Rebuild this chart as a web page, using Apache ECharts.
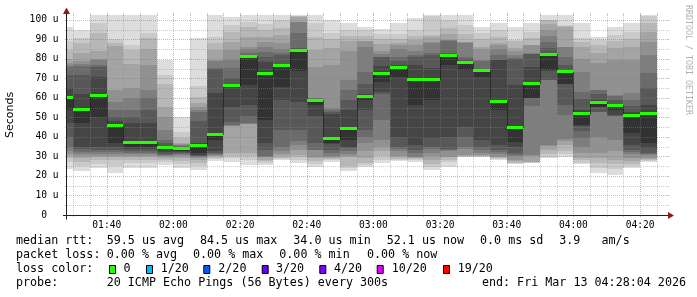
<!DOCTYPE html>
<html><head><meta charset="utf-8">
<script src="https://cdn.jsdelivr.net/npm/echarts@6/dist/echarts.min.js"></script>
<style>html,body{margin:0;padding:0;background:#fff}#c{width:697px;height:297px}</style>
</head><body><div id="c"></div>
<script>
// ---------- data ----------
const colEnds = ['01:30','01:35','01:40','01:45','01:50','01:55','02:00','02:05','02:10','02:15','02:20','02:25',
  '02:30','02:35','02:40','02:45','02:50','02:55','03:00','03:05','03:10','03:15','03:20','03:25',
  '03:30','03:35','03:40','03:45','03:50','03:55','04:00','04:05','04:10','04:15','04:20','04:25'];
// 20 sorted ping times (us) per 5-minute step
const pings = [
  [23.5,27,29,30.5,31.5,33,35,40,47,54,60,65,72,76,77,78,80,84.5,89,96.5],
  [22.5,25,27,29,30.5,31.5,32.5,34,35,47,54,62,72,76.5,77.5,79,83,88,91,95],
  [24,26,28,29.5,30.5,31.5,32.5,33.5,35,50,61.5,71,76,77,79.5,80,84,93.5,98.5,102.5],
  [21.5,25,28,29.5,30.5,31.5,32.5,33.5,35,36.8,45.8,48,50.5,54,58,64,86.5,88,90.5,102.5],
  [24.3,26.5,28,29.5,30.5,31.5,32,33,34,35,37.1,47,50,54,60,65,77.5,84.5,87,102.5],
  [24.3,26.5,28,29.5,30.5,31.5,32,33,34,35,37.4,47,54,60,64,77,85,91,93.5,102.5],
  [25.7,27,28,29,30,30.5,31,31.5,32.5,33.5,34.7,35.2,37,38.5,43.5,50,55.5,67.4,71.6,79.7],
  [24,26,27.5,29,30,31,31.5,32,32.5,33,34,34.5,35,35.5,36,36.5,37,39.5,42.7,50.4],
  [23,25,26.5,28,29,29.5,30,30.5,31,32,35.5,37,48,53,54,55.5,57.3,60.7,65.9,91],
  [27.7,28.5,29,30,30.5,31,31.5,32,33,38.3,41.4,62.4,75,75.2,79,79.5,84.6,88,91.5,102.5],
  [27.3,29,30.5,32,45.5,45.8,46,47.7,55.6,65,66.5,66.8,70,75.2,79.5,84.6,88.6,94,97.4,101.7],
  [25.7,28,30,31.6,46.6,46.8,47,50.6,56.6,66.8,81.5,81.8,82.3,83,85,86.3,91.5,96.4,99,102.5],
  [25.7,26.5,27.5,28.4,29.6,29.8,30,33.4,36.8,48.7,72.5,78.5,81,83.7,86,88.8,91.5,94.8,98,102.5],
  [28,28.5,29,30,31.5,33,35,43.8,59,65.8,76.5,77,82,83,85,88,92.3,95.7,100,102.5],
  [26.5,28,29.5,31,33.5,36,38,43.8,58,73.6,84.5,85,85.6,93.3,98.9,99.2,101.5,102,102.3,102.5],
  [24.4,26,27.5,29,29.5,33.2,33.4,37,50.6,56.4,58.8,59.3,59.6,59.8,60,76.1,84.6,91.5,98.3,102.5],
  [27.3,28,28.5,29,29.5,30,32,33.4,36.5,36.8,39,52,53,54,54.7,77,85.4,90,93.5,100],
  [22.7,24,25,29.5,30,31.5,33,34.5,35,38.3,44.5,54,59,64,69.3,84.3,89.3,92,95,98.3],
  [24.4,25.5,26.5,29.2,33,37,40,43.8,54,59.2,61,62,67.2,73.1,85.9,89,89.3,92,95,96.6],
  [26.6,28,30,33,35,38.3,48.5,62,63,68.2,72.5,76.5,80.8,81,82.5,84,87.6,90,92.6,95.5],
  [27.5,28,28.5,29.5,30,33,34,35,40,70.9,75.5,77,79,80.8,85,87,88.4,90.5,92.6,98.3],
  [27.3,28,28.5,29,29.5,29.8,32,33.2,35.7,56.3,69.5,76.9,81,82,84,87,89.7,92,94.8,100.9],
  [23,24.5,26,28,30,32,34,35,39.6,58.9,69.5,75.2,82,82.9,88,88.9,91.5,92.3,102,102.5],
  [24.8,27,28.4,29.5,29.8,33,33.5,34,40,77,82,82.5,82.9,89.2,89.5,89.7,93,95.7,100,102.5],
  [29.5,29.8,30,30.3,30.7,34,35,40,45,74.6,78,78.6,80,81.2,88,88.5,88.9,93,97.4,102.5],
  [29.5,29.8,30,30.5,31,31.6,33.5,35,38.5,70.9,74,74.2,74.4,79,79.5,85,86.3,90,93.1,96.5],
  [28.3,28.7,29,29.5,29.8,31.5,32.5,33.2,35.7,53.9,58.1,79.5,79.6,82,85,87,88.1,91.5,94.9,98.5],
  [26,26.5,26.6,27.5,28.2,30.5,31,31.6,35,37.6,45,66.6,80,80.3,82,84,85.4,89.2,89.6,96.5],
  [26.5,26.8,27,27.3,30.5,30.7,55.9,59.8,60,60.2,67.5,76,82.6,82.7,82.9,87,87.2,91,94,98.3],
  [29,29.5,31.5,33.2,35.5,35.8,69,69.3,74,74.4,82.5,82.9,85.4,88.9,92,94.8,98,99.8,100,102.5],
  [29.5,31.5,33,35.7,38,39.1,51.1,56.2,67,67.2,73.5,74.4,77,81.2,86,86.3,96.5,97,97.4,102.5],
  [26,26.5,28,29.2,32,35,39.3,43,45.8,46.1,51.9,53.7,59.6,63,73.3,80,86.3,88.5,90.6,98.3],
  [21.5,24,26.5,29,31.6,40.1,52.8,53,55.4,55.6,57.8,59.2,62,64,64.3,77.9,83,87,89.8,91.5],
  [20.5,23.5,26,28.2,33,38.4,50.8,51,51.1,53.7,56.2,56.5,59,61,61.6,79.5,85.5,89,92.3,96.5],
  [24,25,26,27.5,29,31.5,32.5,33.3,35.9,41.8,51,53,56,59,62.4,79.5,86.3,90,94,98.6],
  [27.3,27.7,28,28.5,29.2,31,31.5,31.8,34.3,36.8,52,56.5,65,73,82,88.9,94,98.3,102,102.5]
];
const medians = [60,54,61.5,45.8,37.1,37.4,34.7,34,35.5,41.4,66.5,81.5,72.5,76.5,84.5,58.8,39,44.5,61,72.5,
  75.5,69.5,69.5,82,78,74,58.1,45,67.5,82.5,73.5,51.9,57.8,56.2,51,52];
const xStart = '01:28:04', xEnd = '04:28:04';
const xLabels = ['01:40','02:00','02:20','02:40','03:00','03:20','03:40','04:00','04:20'];
const gridTimes = ['01:30','01:35','01:40','01:45','01:50','01:55','02:00','02:05','02:10','02:15','02:20','02:25',
  '02:30','02:35','02:40','02:45','02:50','02:55','03:00','03:05','03:10','03:15','03:20','03:25',
  '03:30','03:35','03:40','03:45','03:50','03:55','04:00','04:05','04:10','04:15','04:20','04:25'];
const yLabels = [0,10,20,30,40,50,60,70,80,90,100];
const yGridValues = [5,10,15,20,25,30,35,40,45,50,55,60,65,70,75,80,85,90,95,100];
const yMax = 102.56;
const rttLabel = 'median rtt:';
const rttStats = ['59.5 us avg','84.5 us max','34.0 us min','52.1 us now','0.0 ms sd','3.9   am/s'];
const lossLabel = 'packet loss:';
const lossStats = ['0.00 % avg','0.00 % max','0.00 % min','0.00 % now'];
const lossColorLabel = 'loss color:';
const lossLevels = ['0','1/20','2/20','3/20','4/20','10/20','19/20'];
const probeLabel = 'probe:';
const probeText = '20 ICMP Echo Pings (56 Bytes) every 300s';
const endText = 'end: Fri Mar 13 04:28:04 2026';
const watermark = 'RRDTOOL / TOBI OETIKER';

// ---------- styles ----------
const BAND = ['#dddddd','#cacaca','#b7b7b7','#a4a4a4','#919191','#7e7e7e','#6b6b6b','#585858','#454545','#323232'];
const LOSS_COLORS = ['#26ff00','#00b8ff','#0059ff','#5e00ff','#7e00ff','#dd00ff','#ff0000'];
const MONO = '"DejaVu Sans Mono", monospace';
const LEG_FONT = '11.7px ' + MONO;
const rttX = [106.7,200,293.3,386.7,480,559.3];
const lossX = [106.7,193,279.3,367];
const boxX = [109,146,203.3,261.7,319.3,376.7,443];
const boxTextX = [123.5,160.7,218.3,276,334,391.7,457.7];
const lineY = [241.3,255.3,269.3,283.3];

function toMin(s){const p=s.split(':').map(Number);return p[0]*60+p[1]+(p[2]||0)/60;}
function fmt(m){const h=Math.floor(m/60+1e-9), mm=Math.round(m-h*60);return String(h).padStart(2,'0')+':'+String(mm).padStart(2,'0');}

const chart = echarts.init(document.getElementById('c'), null, {renderer:'canvas'});

const graphics = [];
function txt(x,y,t,extra){graphics.push(Object.assign({type:'text',x:x,y:y,silent:true,style:{text:t,font:LEG_FONT,fill:'#000',align:'left',verticalAlign:'middle'}},extra||{}));}
txt(16,lineY[0],rttLabel);
rttStats.forEach((s,i)=>txt(rttX[i],lineY[0],s));
txt(16,lineY[1],lossLabel);
lossStats.forEach((s,i)=>txt(lossX[i],lineY[1],s));
txt(16,lineY[2],lossColorLabel);
lossLevels.forEach((s,i)=>{
  graphics.push({type:'rect',silent:true,shape:{x:boxX[i]+0.5,y:265.5,width:6,height:8},style:{fill:LOSS_COLORS[i],stroke:'#000',lineWidth:1}});
  txt(boxTextX[i],lineY[2],s);
});
txt(16,lineY[3],probeLabel);
txt(106.7,lineY[3],probeText);
graphics.push({type:'text',x:686,y:lineY[3],silent:true,style:{text:endText,font:LEG_FONT,fill:'#000',align:'right',verticalAlign:'middle'}});
graphics.push({type:'text',x:688,y:60,rotation:-Math.PI/2,silent:true,style:{text:watermark,font:'8.3px '+MONO,fill:'#b0b0b0',align:'center',verticalAlign:'middle'}});

const option = {
  animation:false,
  backgroundColor:'#ffffff',
  grid:{left:67,top:15,width:600,height:200,containLabel:false,outerBoundsMode:'none'},
  xAxis:{type:'value',min:toMin(xStart),max:toMin(xEnd),
    axisLine:{show:false},axisTick:{show:false},splitLine:{show:false},
    axisLabel:{customValues:xLabels.map(toMin),formatter:v=>fmt(v),fontFamily:MONO,fontSize:9.6,color:'#000',margin:5}},
  yAxis:{type:'value',min:0,max:yMax,interval:10,
    name:'Seconds',nameLocation:'middle',nameGap:51,nameRotate:90,
    nameTextStyle:{fontFamily:'"DejaVu Sans", sans-serif',fontSize:11,color:'#000'},
    axisLine:{show:false},axisTick:{show:false},splitLine:{show:false},
    axisLabel:{showMaxLabel:false,fontFamily:MONO,fontSize:9.6,color:'#000',margin:8.5,
      formatter:v=>yLabels.indexOf(v)>=0?(v===0?'0  ':v+' u'):''}},
  graphic:graphics,
  series:[
    { // smoke
      type:'custom',z:1,clip:true,
      data:colEnds.map((t,i)=>[toMin(t)].concat(pings[i])),
      encode:{x:0,y:20},
      renderItem:function(params,api){
        const cs=params.coordSys, t=api.value(0);
        let x0=Math.round(api.coord([t-5,0])[0]); const x1=Math.round(api.coord([t,0])[0]);
        x0=Math.max(x0,Math.round(cs.x));
        const ch=[];
        for(let k=0;k<10;k++){
          const lo=api.value(1+k), hi=api.value(20-k);
          const yt=Math.round(api.coord([t,hi])[1]), yb=Math.round(api.coord([t,lo])[1]);
          ch.push({type:'rect',shape:{x:x0,y:yt,width:x1-x0,height:Math.max(yb-yt,1)},style:{fill:BAND[k]}});
        }
        return {type:'group',children:ch};
      }
    },
    { // vertical grid
      type:'custom',z:3,clip:false,silent:true,
      data:gridTimes.map(t=>[toMin(t),xLabels.indexOf(t)>=0?1:0]),
      encode:{x:0},
      renderItem:function(params,api){
        const cs=params.coordSys, t=api.value(0), major=api.value(1)===1;
        const x=Math.round(api.coord([t,0])[0])+0.5, yt=cs.y, yb=cs.y+cs.height;
        const col=major?'rgba(222,80,80,0.5)':'rgba(140,140,140,0.45)';
        return {type:'group',children:[
          {type:'line',shape:{x1:x,y1:yt,x2:x,y2:yb},style:{stroke:col,lineWidth:1,lineDash:[1,1]}},
          {type:'line',shape:{x1:x,y1:yb,x2:x,y2:yb+2},style:{stroke:col,lineWidth:1}},
          {type:'line',shape:{x1:x,y1:yt-2,x2:x,y2:yt},style:{stroke:col,lineWidth:1}}
        ]};
      }
    },
    { // horizontal grid
      type:'custom',z:3,clip:false,silent:true,
      data:yGridValues.map(v=>[toMin(xStart),v,yLabels.indexOf(v)>=0?1:0]),
      encode:{x:0,y:1},
      renderItem:function(params,api){
        const cs=params.coordSys, v=api.value(1), major=api.value(2)===1;
        const y=Math.round(api.coord([api.value(0),v])[1])+0.5, xl=cs.x, xr=cs.x+cs.width;
        const col=major?'rgba(222,80,80,0.5)':'rgba(140,140,140,0.45)';
        return {type:'group',children:[
          {type:'line',shape:{x1:xl,y1:y,x2:xr,y2:y},style:{stroke:col,lineWidth:1,lineDash:[1,1]}},
          {type:'line',shape:{x1:xl-2,y1:y,x2:xl,y2:y},style:{stroke:col,lineWidth:1}},
          {type:'line',shape:{x1:xr,y1:y,x2:xr+2,y2:y},style:{stroke:col,lineWidth:1}}
        ]};
      }
    },
    { // median
      type:'custom',z:5,clip:true,
      data:colEnds.map((t,i)=>[toMin(t),medians[i],i>0?medians[i-1]:medians[i]]),
      encode:{x:0,y:1},
      renderItem:function(params,api){
        const cs=params.coordSys, t=api.value(0);
        let x0=Math.round(api.coord([t-5,0])[0]); const x1=Math.round(api.coord([t,0])[0]);
        const yc=api.coord([t,api.value(1)])[1], yp=api.coord([t,api.value(2)])[1];
        const ch=[];
        if(x0>cs.x){ch.push({type:'line',shape:{x1:x0+0.5,y1:Math.round(yp)+0.5,x2:x0+0.5,y2:Math.round(yc)+0.5},style:{stroke:'#000',lineWidth:1,lineDash:[1,1]}});}
        x0=Math.max(x0,Math.round(cs.x));
        ch.push({type:'rect',shape:{x:x0,y:Math.round(yc-1.5),width:x1-x0,height:3},style:{fill:LOSS_COLORS[0]}});
        return {type:'group',children:ch};
      }
    },
    { // axes with arrows
      type:'custom',z:8,clip:false,silent:true,
      data:[[toMin(xStart),0]],
      encode:{x:0,y:1},
      renderItem:function(params,api){
        const cs=params.coordSys, xa=cs.x-0.5, yb=cs.y+cs.height+0.5, xr=cs.x+cs.width;
        return {type:'group',children:[
          {type:'line',shape:{x1:cs.x-4,y1:yb,x2:xr+2,y2:yb},style:{stroke:'#202020',lineWidth:1}},
          {type:'line',shape:{x1:xa,y1:yb+4,x2:xa,y2:cs.y-2},style:{stroke:'#202020',lineWidth:1}},
          {type:'polygon',shape:{points:[[xr+1,yb-3.5],[xr+7,yb],[xr+1,yb+3.5]]},style:{fill:'#8c1c1c'}},
          {type:'polygon',shape:{points:[[xa-3.5,cs.y-1],[xa,cs.y-7.5],[xa+3.5,cs.y-1]]},style:{fill:'#8c1c1c'}}
        ]};
      }
    }
  ]
};
chart.setOption(option);
</script></body></html>
